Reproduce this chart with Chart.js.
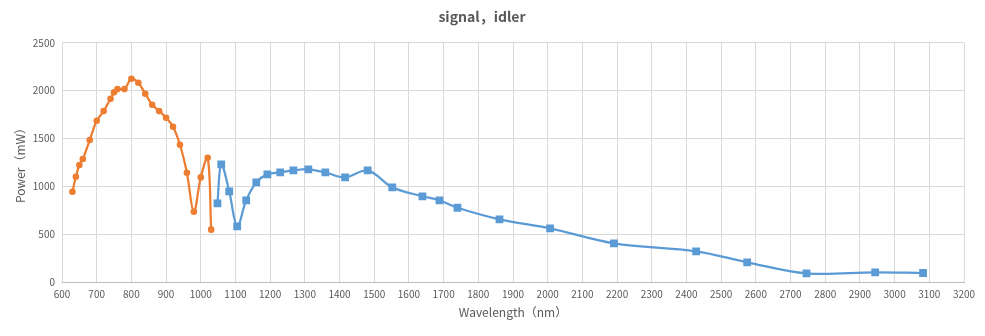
<!DOCTYPE html>
<html>
<head>
<meta charset="utf-8">
<script src="https://cdn.jsdelivr.net/npm/chart.js@4/dist/chart.umd.min.js"></script>
<style>
html,body{margin:0;padding:0;background:#fff;}
#wrap{width:985px;height:336px;position:relative;}
</style>
</head>
<body>
<div id="wrap"><canvas id="c" width="985" height="336"></canvas></div>
<script>
const chartTitle = "signal，idler";
const xAxisTitle = "Wavelength（nm）";
const yAxisTitle = "Power（mW）";

const signalWavelength = [630,640,650,660,680,700,720,740,750,760,780,800,820,840,860,880,900,920,940,960,980,1000,1020,1030];
const signalPower = [943,1100,1223,1285,1484,1685,1786,1916,1982,2016,2016,2124,2082,1968,1853,1786,1717,1623,1434,1142,735,1093,1299,547];

const idlerWavelength = [1048,1059,1082,1105,1131,1160,1192,1229,1267,1310,1359,1416,1481,1552,1639,1688,1740,1861,2007,2191,2428,2575,2746,2944,3082];
const idlerPower = [822,1230,948,582,854,1041,1125,1145,1166,1178,1145,1093,1166,989,896,854,776,655,561,404,321,206,90,101,94];

const xMin = 600, xMax = 3200, xStep = 100;
const yMin = 0, yMax = 2500, yStep = 500;

const FONT = "'Noto Sans CJK SC', 'Noto Sans', sans-serif";
const TXT = '#595959';

function pts(xs, ys){ return xs.map((x,i)=>({x:x, y:ys[i]})); }

new Chart(document.getElementById('c'), {
  type: 'line',
  data: {
    datasets: [
      {
        label: 'signal',
        data: pts(signalWavelength, signalPower),
        borderColor: '#ED7D31',
        backgroundColor: '#ED7D31',
        borderWidth: 2.25,
        pointStyle: 'circle',
        pointRadius: 3.3,
        pointBorderWidth: 0,
        tension: 0.35
      },
      {
        label: 'idler',
        data: pts(idlerWavelength, idlerPower),
        borderColor: '#5B9BD5',
        backgroundColor: '#5B9BD5',
        borderWidth: 2.25,
        pointStyle: 'rect',
        pointRadius: 5.5,
        pointBorderWidth: 0,
        tension: 0.35
      }
    ]
  },
  options: {
    responsive: false,
    animation: false,
    layout: { padding: { top: 0, right: 21, bottom: 0, left: 0 } },
    plugins: {
      legend: { display: false },
      tooltip: { enabled: false },
      title: {
        display: true,
        text: chartTitle,
        color: TXT,
        font: { family: FONT, size: 14, weight: 'bold', lineHeight: 1.2 },
        padding: { top: 8, bottom: 18 }
      }
    },
    scales: {
      x: {
        type: 'linear',
        min: xMin, max: xMax,
        afterFit: s => { s.height = 54; },
        ticks: { stepSize: xStep, color: TXT, font: { family: FONT, size: 10 }, maxRotation: 0, autoSkip: false, padding: 6, callback: v => String(v) },
        grid: { color: '#d9d9d9', drawTicks: false, lineWidth: 1 },
        border: { color: '#bfbfbf', width: 1 },
        title: { display: true, text: xAxisTitle, color: TXT, font: { family: FONT, size: 12, lineHeight: 1.2 }, padding: { top: 0, bottom: 16 } }
      },
      y: {
        type: 'linear',
        min: yMin, max: yMax,
        afterFit: s => { s.width = 62; },
        ticks: { stepSize: yStep, color: TXT, font: { family: FONT, size: 10 }, padding: 7, callback: v => String(v) },
        grid: { color: '#d9d9d9', drawTicks: false, lineWidth: 1 },
        border: { display: false },
        title: { display: true, text: yAxisTitle, color: TXT, font: { family: FONT, size: 12, lineHeight: 1.2 }, padding: { top: 13, bottom: 0 } }
      }
    }
  }
});
</script>
</body>
</html>
